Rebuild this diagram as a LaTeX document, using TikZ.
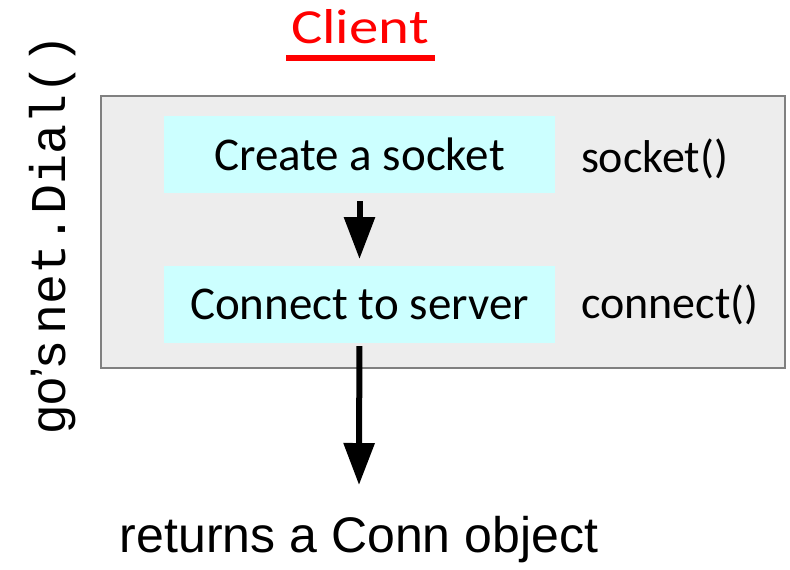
\documentclass[tikz,border=0pt]{standalone}
\usepackage{fontspec}
\setmainfont{Carlito}
\newfontfamily\arialfont{Liberation Sans}
\newfontfamily\courierfont{Liberation Mono}
\newfontfamily\titlefont[FakeStretch=1.2]{Carlito}
\usetikzlibrary{arrows.meta}
\definecolor{boxcyan}{RGB}{204,255,255}
\definecolor{panelgray}{RGB}{237,237,237}

\begin{document}
\begin{tikzpicture}[x=0.5pt,y=-0.5pt,->,>={Triangle[width=15pt,length=21pt]},line width=3pt]
  \tikzstyle{stepbox}=[fill=boxcyan,draw=none,minimum width=195.5pt,minimum height=38.5pt,font=\fontsize{23.5}{28}\selectfont]
  \tikzstyle{callname}=[anchor=base west,inner sep=0pt,font=\fontsize{23}{28}\selectfont]

  \useasboundingbox (0,0) rectangle (790,569);

  % the client side
  \node[fill=panelgray,draw=black!50,line width=0.75pt,minimum width=342pt,minimum height=136pt] (dialbox) at (443,232) {};
  \node[stepbox] (create)  at (359.5,154.5) {Create a socket};
  \node[stepbox] (connect) at (359.5,304.5) {Connect to server};
  \node[callname] (sockcall) at (578,172) {socket()};
  \node[callname] (conncall) at (578,318) {connect()};

  \node[text=red,inner sep=0pt,anchor=base,font=\titlefont\fontsize{24.5}{28}\selectfont] (client) at (360,43) {Client};
  \draw[-,red] (286,58) -- (435,58);

  \node[rotate=90,anchor=base,inner sep=0pt,font=\fontsize{25}{30}\selectfont] (dial) at (65,234)
    {\arialfont go’s\,{\courierfont\fontsize{25}{30}\selectfont net.Dial()}};

  \coordinate (result) at (359,485);
  \node[anchor=base,inner sep=0pt,font=\arialfont\fontsize{25}{30}\selectfont] (conn) at (359,552) {returns a Conn object};

  \draw[shorten <=2.5pt,shorten >=2pt] (create) -- (connect);
  \draw (connect) -- (result);
\end{tikzpicture}
\end{document}
